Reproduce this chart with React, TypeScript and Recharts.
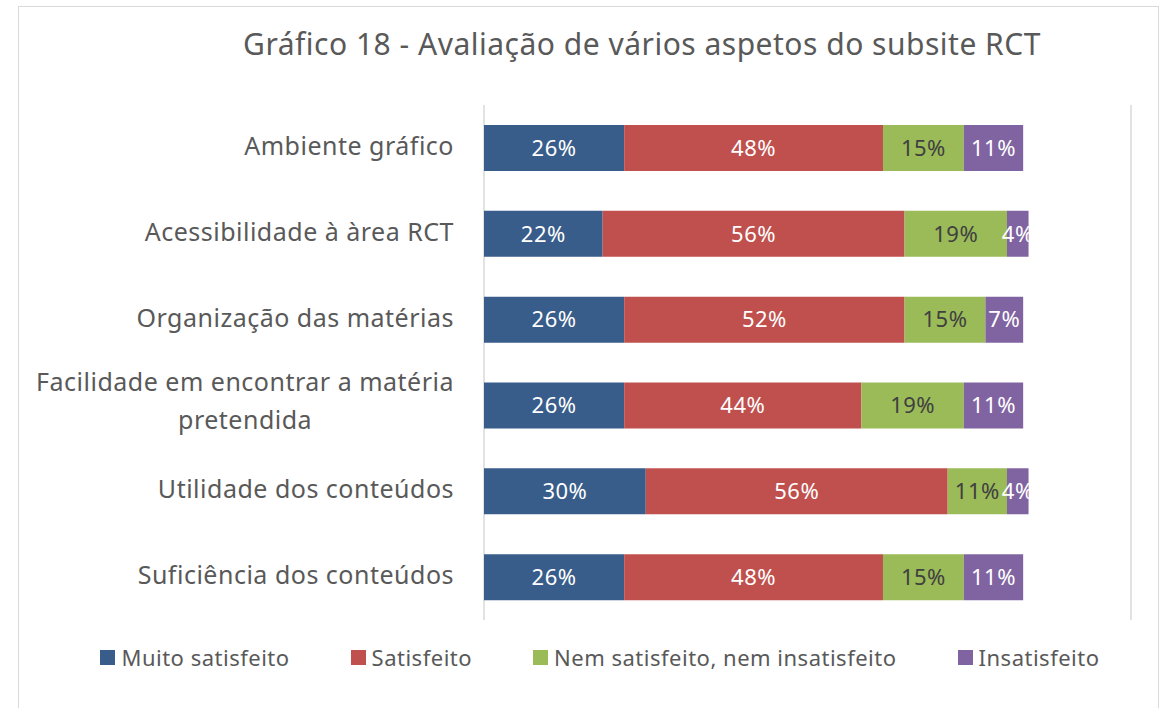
import { BarChart, Bar, XAxis, YAxis, CartesianGrid, LabelList } from 'recharts';

const categories = [
    'Ambiente gráfico',
    'Acessibilidade à àrea RCT',
    'Organização das matérias',
    'Facilidade em encontrar a matéria pretendida',
    'Utilidade dos conteúdos',
    'Suficiência dos conteúdos',
];
const muitoSatisfeito = [26, 22, 26, 26, 30, 26];
const satisfeito = [48, 56, 52, 44, 56, 48];
const nemNem = [15, 19, 15, 19, 11, 15];
const insatisfeito = [11, 4, 7, 11, 4, 11];
const xTicks = [0, 20, 40, 60, 80, 100, 120];

const series = [
    { key: 'muito', name: 'Muito satisfeito', color: '#385D8A', text: '#ffffff' },
    { key: 'sat', name: 'Satisfeito', color: '#C0504D', text: '#ffffff' },
    { key: 'nem', name: 'Nem satisfeito, nem insatisfeito', color: '#9BBB59', text: '#404040' },
    { key: 'ins', name: 'Insatisfeito', color: '#8064A2', text: '#ffffff' },
];

const data = categories.map((name, i) => ({
    name,
    muito: muitoSatisfeito[i],
    sat: satisfeito[i],
    nem: nemNem[i],
    ins: insatisfeito[i],
}));

const FONT = '"Noto Sans", "Open Sans", sans-serif';
const LABEL_SIZE = 25;
const SPACING = 0.5;

let ctx: CanvasRenderingContext2D | null = null;
function textWidth(s: string) {
    if (!ctx) ctx = document.createElement('canvas').getContext('2d');
    if (!ctx) return s.length * 13;
    ctx.font = `${LABEL_SIZE}px "Noto Sans"`;
    return ctx.measureText(s).width + s.length * SPACING;
}

function wrap(s: string, max: number) {
    const words = s.split(' ');
    const lines: string[] = [];
    let cur = '';
    words.forEach((w) => {
        const next = cur ? cur + ' ' + w : w;
        if (next.length > max && cur) {
            lines.push(cur);
            cur = w;
        } else cur = next;
    });
    if (cur) lines.push(cur);
    return lines;
}

function CategoryTick({ x, y, payload }: any) {
    const lines = wrap(payload.value, 34);
    const common = { fill: '#595959', fontSize: LABEL_SIZE, fontFamily: FONT, letterSpacing: SPACING, dominantBaseline: 'central' as const };
    if (lines.length === 1) {
        return (
            <text x={x} y={y - 3} textAnchor="end" {...common}>
                {payload.value}
            </text>
        );
    }
    const w = Math.max(...lines.map(textWidth));
    const cx = x - w / 2;
    return (
        <g>
            {lines.map((l, i) => (
                <text key={i} x={cx} y={y - 5 + (i - (lines.length - 1) / 2) * 38} textAnchor="middle" {...common}>
                    {l}
                </text>
            ))}
        </g>
    );
}

export default function App() {
    return (
        <div style={{ position: 'absolute', left: 0, top: 0, width: 1171, height: 708, background: '#fff', overflow: 'hidden', fontFamily: FONT }}>
            <div style={{ position: 'absolute', left: 18, top: 6, width: 1139, height: 720, border: '1px solid #d9d9d9' }} />
            <div style={{ position: 'absolute', left: 142, width: 1000, top: 24, textAlign: 'center', fontSize: 30, letterSpacing: 0.5, color: '#595959', lineHeight: '40px' }}>
                Gráfico 18 - Avaliação de vários aspetos do subsite RCT
            </div>
            <div style={{ position: 'absolute', left: 0, top: 0 }}>
                <BarChart
                    width={1171}
                    height={708}
                    data={data}
                    layout="vertical"
                    margin={{ top: 105, right: 40, bottom: 88, left: 0 }}
                    barSize={46}
                >
                    <CartesianGrid horizontal={false} stroke="#d9d9d9" strokeWidth={1.5} />
                    <XAxis type="number" domain={[0, 120]} ticks={xTicks} tick={false} axisLine={false} tickLine={false} height={0} />
                    <YAxis
                        type="category"
                        dataKey="name"
                        width={484}
                        axisLine={false}
                        tickLine={false}
                        tickSize={0}
                        tickMargin={30}
                        interval={0}
                        tick={<CategoryTick />}
                    />
                    {series.map((s) => (
                        <Bar key={s.key} dataKey={s.key} name={s.name} stackId="a" fill={s.color} isAnimationActive={false}>
                            <LabelList
                                dataKey={s.key}
                                position="center"
                                formatter={(v: any) => `${v}%`}
                                fill={s.text}
                                fontSize={22}
                                letterSpacing={0.5}
                                fontFamily={FONT}
                            />
                        </Bar>
                    ))}
                </BarChart>
            </div>
            <div style={{ position: 'absolute', left: 0, width: 1200, top: 642, display: 'flex', justifyContent: 'center', gap: 61, fontSize: 22, letterSpacing: 0.5, color: '#595959' }}>
                {series.map((s) => (
                    <div key={s.key} style={{ display: 'flex', alignItems: 'center' }}>
                        <span style={{ width: 15, height: 15, background: s.color, marginRight: 6, display: 'inline-block' }} />
                        <span>{s.name}</span>
                    </div>
                ))}
            </div>
        </div>
    );
}
